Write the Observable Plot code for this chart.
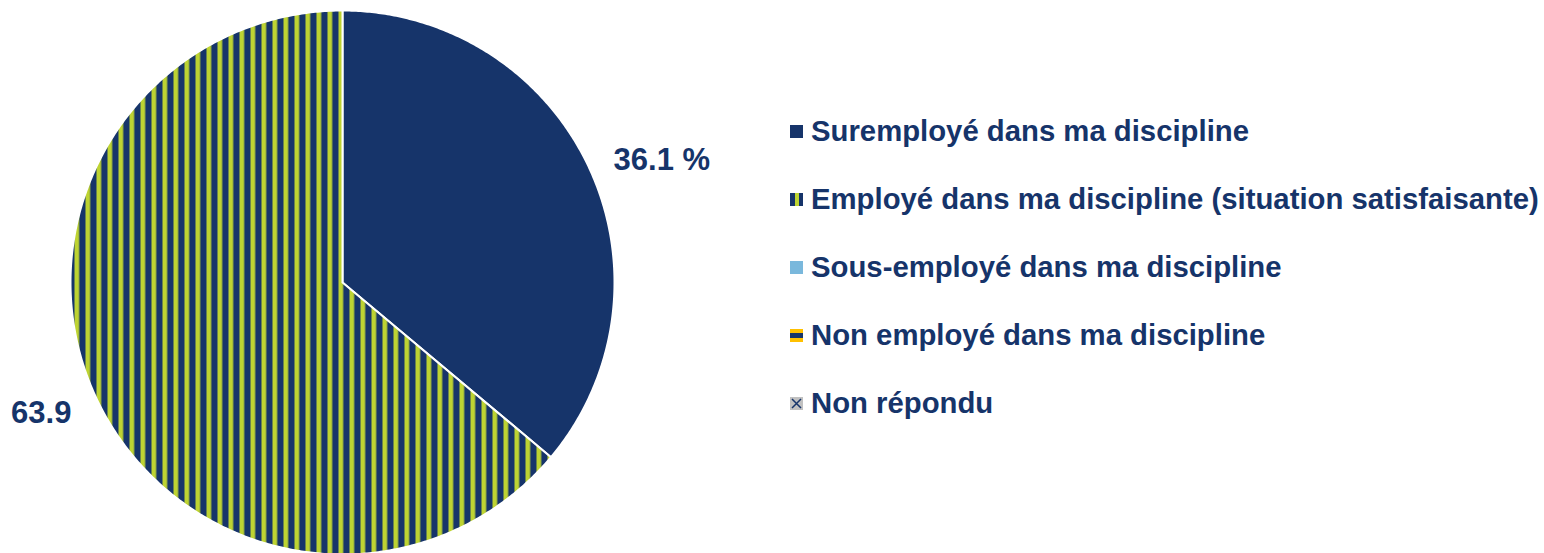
<!DOCTYPE html>
<html><head><meta charset="utf-8">
<script src="https://cdn.jsdelivr.net/npm/d3@7"></script>
<script src="https://cdn.jsdelivr.net/npm/@observablehq/plot@0.6"></script>
<style>
body{margin:0;background:#fff;font-family:"Liberation Sans",Arial,sans-serif;}
#wrap{position:relative;width:1544px;height:553px;overflow:hidden;}
#chart{position:absolute;left:0;top:0;}
#legend{position:absolute;left:790px;top:0;}
.row{position:absolute;left:0;height:40px;display:flex;align-items:center;white-space:nowrap;font-weight:bold;font-size:29.3px;color:#16346a;}
.row svg{margin-right:8px;flex:none;}
</style></head><body>
<div id="wrap"><div id="chart"></div><div id="legend"></div></div>
<script>
const categories = [
  "Suremployé dans ma discipline",
  "Employé dans ma discipline (situation satisfaisante)",
  "Sous-employé dans ma discipline",
  "Non employé dans ma discipline",
  "Non répondu"
];
const values = [36.1, 63.9, 0, 0, 0];
const valueLabels = ["36.1 %", "63.9", "", "", ""];
const fills = ["#16346a", "url(#stripesV)", "#7ab8dc", "url(#stripesH)", "url(#cross)"];

const NAVY = "#16346a", GREEN = "#bdd332", GOLD = "#ffc000";

// pie geometry (unit radius) from the data
const arcs = d3.pie().sort(null).value(d => d.v)(values.map((v, i) => ({v, i})));
const pts = [];
arcs.forEach(a => {
  if (a.data.v <= 0) return;
  const n = Math.max(8, Math.ceil((a.endAngle - a.startAngle) * 120));
  pts.push({s: a.data.i, x: 0, y: 0});
  for (let k = 0; k <= n; k++) {
    const t = a.startAngle + (a.endAngle - a.startAngle) * k / n;
    pts.push({s: a.data.i, x: Math.sin(t), y: Math.cos(t)});
  }
  pts.push({s: a.data.i, x: 0, y: 0});
});
const lab = arcs.filter(a => a.data.v > 0).map(a => {
  const m = (a.startAngle + a.endAngle) / 2;
  return {x: 1.1 * Math.sin(m), y: 1.1 * Math.cos(m), t: valueLabels[a.data.i], right: Math.sin(m) >= 0};
});

const W = 720, H = 553, CX = 342, CY = 282, R = 272;
const plot = Plot.plot({
  width: W, height: H, margin: 0,
  x: {domain: [-CX / R, (W - CX) / R], range: [0, W], axis: null},
  y: {domain: [CY / R, -(H - CY) / R], range: [0, H], axis: null},
  color: {type: "identity"},
  marks: [
    Plot.line(pts, {x: "x", y: "y", z: "s", fill: d => fills[d.s], stroke: "#fff", strokeWidth: 2, curve: "linear"}),
    Plot.text(lab.filter(d => d.right), {x: "x", y: "y", text: "t", textAnchor: "start", dy: 4, fontSize: 31, fontWeight: "bold", fill: NAVY}),
    Plot.text(lab.filter(d => !d.right), {x: "x", y: "y", text: "t", textAnchor: "end", dy: 4, fontSize: 31, fontWeight: "bold", fill: NAVY})
  ]
});
plot.style.fontFamily = '"Liberation Sans", Arial, sans-serif';
const defs = d3.select(plot).insert("defs", ":first-child");
const pv = defs.append("pattern").attr("id", "stripesV").attr("patternUnits", "userSpaceOnUse")
  .attr("x", 8).attr("y", 0).attr("width", 11).attr("height", 11);
pv.append("rect").attr("width", 11).attr("height", 11).attr("fill", NAVY);
pv.append("rect").attr("width", 4.7).attr("height", 11).attr("fill", GREEN);
const ph = defs.append("pattern").attr("id", "stripesH").attr("patternUnits", "userSpaceOnUse")
  .attr("width", 11).attr("height", 11);
ph.append("rect").attr("width", 11).attr("height", 11).attr("fill", GOLD);
ph.append("rect").attr("y", 3).attr("width", 11).attr("height", 5).attr("fill", NAVY);
const pc = defs.append("pattern").attr("id", "cross").attr("patternUnits", "userSpaceOnUse")
  .attr("width", 13).attr("height", 13);
pc.append("rect").attr("width", 13).attr("height", 13).attr("fill", "#c0c0c0");
pc.append("path").attr("d", "M2,2L11,11M11,2L2,11").attr("stroke", NAVY).attr("stroke-width", 1.5);
document.getElementById("chart").appendChild(plot);

// legend
const swatch = [
  s => s.append("rect").attr("width", 13).attr("height", 13).attr("fill", NAVY),
  s => { s.append("rect").attr("width", 13).attr("height", 13).attr("fill", NAVY);
         s.append("rect").attr("x", 5).attr("width", 4).attr("height", 13).attr("fill", GREEN); },
  s => s.append("rect").attr("width", 13).attr("height", 13).attr("fill", "#7ab8dc"),
  s => { s.append("rect").attr("width", 13).attr("height", 13).attr("fill", GOLD);
         s.append("rect").attr("y", 4).attr("width", 13).attr("height", 5).attr("fill", NAVY); },
  s => { s.append("rect").attr("width", 13).attr("height", 13).attr("fill", "#c0c0c0");
         s.append("path").attr("d", "M2,2L11,11M11,2L2,11").attr("stroke", NAVY).attr("stroke-width", 1.5); }
];
const leg = d3.select("#legend");
categories.forEach((c, i) => {
  const row = leg.append("div").attr("class", "row").style("top", (131 + i * 68 - 20) + "px");
  const s = row.append("svg").attr("width", 13).attr("height", 13);
  swatch[i](s);
  row.append("span").text(c);
});
</script>
</body></html>
